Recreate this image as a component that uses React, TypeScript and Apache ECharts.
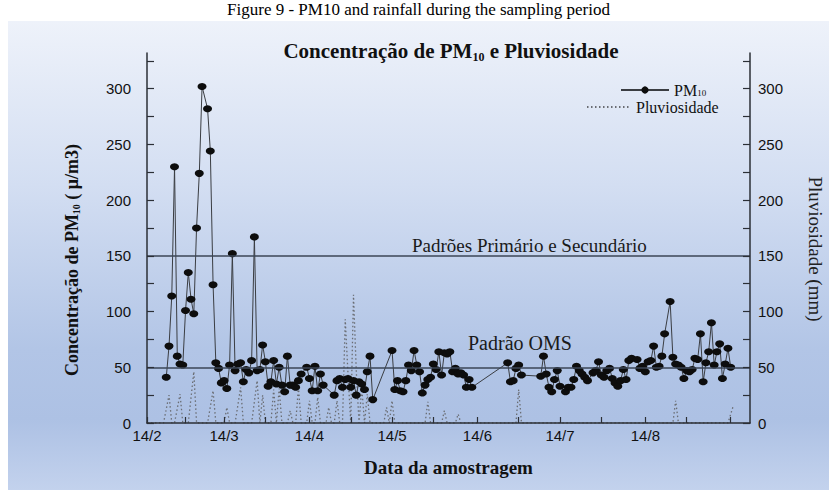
import React, { useEffect, useRef } from "react";
import * as echarts from "echarts";

// ---- data (days counted from 14/2) ----
const xTickDays = [0, 28, 59, 89, 120, 150, 181];
const xTickLabels = ["14/2", "14/3", "14/4", "14/5", "14/6", "14/7", "14/8"];
const xMinorTickDays = [0, 14, 28, 43, 59, 74, 89, 104, 120, 135, 150, 165, 181, 196, 212];
const yLabelValues = [0, 50, 100, 150, 200, 250, 300];
const yTickValues = [0, 25, 50, 75, 100, 125, 150, 175, 200, 225, 250, 275, 300, 325];

const pmDays = [
  7, 8, 9, 10, 11, 12, 13, 14, 15, 16, 17, 18, 19, 20, 22, 23, 24, 25, 26, 27, 28, 29, 30,
  31, 32, 33, 34, 35, 36, 37, 38, 39, 40, 41, 42, 43, 44, 45, 46, 47, 48, 49, 50, 51, 52,
  53, 54, 55, 56, 58, 59, 60, 61, 62, 63, 64, 68, 69, 70, 71, 72, 73, 74, 75, 76, 77, 78,
  79, 80, 81, 82, 89, 90, 91, 92, 93, 94, 95, 96, 97, 98, 99, 100, 101, 102, 103, 104, 105,
  106, 107, 108, 109, 110, 111, 112, 113, 114, 115, 116, 117, 118, 131, 132, 133, 134, 135,
  136, 143, 144, 145, 146, 147, 148, 149, 150, 152, 153, 154, 155, 156, 157, 158, 159, 160,
  162, 163, 164, 165, 166, 167, 168, 169, 170, 171, 172, 173, 174, 175, 176, 178, 179, 180,
  181, 182, 183, 184, 185, 186, 187, 188, 190, 191, 192, 193, 194, 195, 196, 197, 198, 199,
  200, 201, 202, 203, 204, 205, 206, 207, 208, 209, 210, 211, 212,
];
const pmValues = [
  41, 69, 114, 230, 60, 53, 52, 101, 135, 111, 98, 175, 224, 302, 282, 244, 124, 54, 49, 36,
  38, 31, 52, 152, 47, 53, 54, 37, 48, 45, 56, 167, 47, 48, 70, 55, 33, 37, 56, 35, 50, 34,
  28, 60, 34, 34, 32, 38, 44, 50, 40, 29, 51, 29, 44, 34, 25, 38, 40, 32, 39, 40, 32, 38, 25,
  37, 35, 30, 46, 60, 21, 65, 30, 38, 29, 28, 38, 52, 47, 65, 52, 46, 27, 34, 39, 41, 53, 48,
  64, 43, 63, 62, 64, 46, 49, 44, 45, 43, 32, 39, 32, 54, 37, 38, 49, 52, 43, 42, 60, 44, 32,
  28, 39, 47, 33, 28, 32, 32, 39, 51, 47, 44, 41, 38, 45, 47, 55, 43, 41, 47, 49, 40, 36, 33,
  38, 48, 39, 56, 58, 57, 49, 51, 46, 55, 56, 69, 50, 51, 60, 80, 109, 59, 53, 52, 50, 40, 47,
  46, 48, 58, 57, 80, 37, 54, 64, 90, 52, 64, 71, 40, 53, 67, 50,
];

const rainDays = [
  0, 6, 8, 9, 10, 12, 13, 15, 17, 18, 22, 24, 25, 28, 29, 30, 32, 34, 35, 38, 40, 41, 42, 43,
  45, 46, 47, 48, 49, 51, 52, 53, 54, 55, 56, 58, 59, 60, 61, 62, 63, 65, 66, 67, 68, 69, 70,
  71, 72, 73, 74, 75, 76, 77, 78, 79, 80, 81, 86, 87, 88, 89, 90, 101, 102, 103, 107, 108,
  109, 112, 113, 114, 134, 135, 136, 191, 192, 193, 211, 213,
];
const rainValues = [
  0, 0, 25, 0, 0, 26, 0, 0, 46, 0, 0, 29, 0, 0, 14, 0, 0, 32, 0, 0, 38, 0, 25, 0,
  0, 30, 0, 31, 0, 0, 11, 0, 0, 32, 0, 0, 20, 0, 0, 23, 0, 0, 14, 0, 0, 20, 0,
  0, 93, 44, 0, 115, 47, 0, 32, 0, 26, 0, 0, 14, 0, 20, 0, 0, 19, 0, 0, 11,
  0, 0, 8, 0, 0, 30, 0, 0, 20, 0, 0, 16,
];

const pmData = pmDays.map((d, i) => [d, pmValues[i]]);
const rainData = rainDays.map((d, i) => [d, rainValues[i]]);

const SERIF = "'Liberation Serif', 'Times New Roman', serif";
const SANS = "'Liberation Sans', Arial, sans-serif";

export default function App() {
  const ref = useRef<HTMLDivElement>(null);

  useEffect(() => {
    if (!ref.current) return;
    const chart = echarts.init(ref.current, undefined, { renderer: "svg" });
    const labelOf = (v: number) => {
      const i = xTickDays.indexOf(v);
      return i >= 0 ? xTickLabels[i] : "";
    };
    const yAxisCommon = {
      type: "value",
      min: 0,
      max: 332,
      interval: 50,
      z: 5,
      axisLine: { show: true, lineStyle: { color: "#2b2f36", width: 1.5 } },
      axisTick: {
        show: true,
        inside: true,
        length: 7,
        customValues: yTickValues,
        lineStyle: { color: "#2b2f36", width: 1.2 },
      },
      splitLine: { show: false },
      axisLabel: {
        customValues: yLabelValues,
        fontFamily: SANS,
        fontSize: 15,
        color: "#111",
      },
    };

    chart.setOption({
      animation: false,
      backgroundColor: "#ffffff",
      graphic: [
        {
          type: "text",
          z: -2,
          left: "center",
          top: 1,
          style: {
            text: "Figure 9 - PM10 and rainfall during the sampling period",
            font: `17px ${SERIF}`,
            fill: "#000",
          },
        },
        {
          type: "rect",
          z: -1,
          shape: { x: 8, y: 21, width: 821, height: 469 },
          style: {
            fill: {
              type: "linear",
              x: 0,
              y: 0,
              x2: 0,
              y2: 1,
              colorStops: [
                { offset: 0, color: "#eef2fa" },
                { offset: 0.35, color: "#d3def2" },
                { offset: 0.7, color: "#b2c5e6" },
                { offset: 0.85, color: "#adc1e4" },
                { offset: 1, color: "#c3d2ed" },
              ],
            },
          },
        },
        {
          type: "text",
          left: 412,
          top: 236,
          z: 5,
          style: {
            text: "Padrões Primário e Secundário",
            font: `19px ${SERIF}`,
            fill: "#1a1a1a",
          },
        },
        {
          type: "text",
          left: 468,
          top: 333,
          z: 5,
          style: { text: "Padrão OMS", font: `20px ${SERIF}`, fill: "#1a1a1a" },
        },
      ],
      title: {
        text: "{a|Concentração de PM}{s|10}{a| e Pluviosidade}",
        left: 446,
        textAlign: "center",
        top: 34,
        textStyle: {
          rich: {
            a: { fontFamily: SERIF, fontWeight: "bold", fontSize: 21, color: "#111", lineHeight: 24 },
            s: {
              fontFamily: SERIF,
              fontWeight: "bold",
              fontSize: 12,
              color: "#111",
              verticalAlign: "bottom",
              lineHeight: 24,
              padding: [10, 0, 0, 0],
            },
          },
        },
      },
      legend: [
        {
          data: ["PM10"],
          left: 620,
          top: 82,
          padding: 0,
          itemWidth: 48,
          itemHeight: 9,
          formatter: () => "{a|PM}{s|10}",
          textStyle: {
            rich: {
              a: { fontFamily: SERIF, fontSize: 16, color: "#111", lineHeight: 14 },
              s: { fontFamily: SERIF, fontSize: 9, color: "#111", lineHeight: 14, verticalAlign: "bottom", padding: [4, 0, 0, 0] },
            },
          },
        },
        {
          data: ["Pluviosidade"],
          left: 586,
          top: 99,
          padding: 0,
          itemWidth: 44,
          itemHeight: 8,
          itemStyle: { color: "rgba(0,0,0,0)", borderWidth: 0 },
          textStyle: { fontFamily: SERIF, fontSize: 16, color: "#111", lineHeight: 14 },
        },
      ],
      grid: { left: 147, right: 87, top: 53, bottom: 67, containLabel: false, outerBoundsMode: "none" },
      xAxis: {
        type: "value",
        min: 0,
        max: 219,
        z: 5,
        name: "Data da amostragem",
        nameLocation: "middle",
        nameGap: 35,
        nameTextStyle: { fontFamily: SERIF, fontWeight: "bold", fontSize: 19, color: "#111" },
        axisLine: { show: true, lineStyle: { color: "#2b2f36", width: 1.5 } },
        axisTick: {
          show: true,
          inside: true,
          length: 6,
          customValues: xMinorTickDays,
          lineStyle: { color: "#2b2f36", width: 1.2 },
        },
        splitLine: { show: false },
        axisLabel: {
          customValues: xTickDays,
          formatter: (v: number) => labelOf(v),
          fontFamily: SANS,
          fontSize: 15,
          color: "#111",
          margin: 5,
        },
      },
      yAxis: [
        {
          ...yAxisCommon,
          position: "left",
          name: "{a|Concentração de PM}{s|10}{a| ( μ/m3)}",
          nameLocation: "middle",
          nameGap: 66,
          nameTextStyle: {
            padding: [0, 44, 0, 0],
            rich: {
              a: { fontFamily: SERIF, fontWeight: "bold", fontSize: 18, color: "#111" },
              s: { fontFamily: SERIF, fontWeight: "bold", fontSize: 10, color: "#111", verticalAlign: "bottom", padding: [8, 0, 0, 0] },
            },
          },
          axisLabel: { ...yAxisCommon.axisLabel, margin: 16 },
        },
        {
          ...yAxisCommon,
          position: "right",
          name: "Pluviosidade (mm)",
          nameLocation: "middle",
          nameRotate: -90,
          nameGap: 56,
          nameTextStyle: { fontFamily: SERIF, fontSize: 19, color: "#222", padding: [0, 0, 0, 22] },
          axisLabel: { ...yAxisCommon.axisLabel, margin: 8 },
        },
      ],
      series: [
        {
          name: "Pluviosidade",
          type: "line",
          yAxisIndex: 1,
          data: rainData,
          symbol: "none",
          z: 2,
          lineStyle: { color: "#6a6d73", width: 1.3, type: [1.5, 2.5] },
          itemStyle: { color: "#6a6d73" },
        },
        {
          name: "PM10",
          type: "line",
          yAxisIndex: 0,
          data: pmData,
          symbol: "circle",
          symbolSize: [9, 7],
          z: 3,
          lineStyle: { color: "#3a3d42", width: 1 },
          itemStyle: { color: "#0d0d0d" },
          markLine: {
            silent: true,
            symbol: "none",
            label: { show: false },
            lineStyle: { color: "#3b4656", width: 1.6, type: "solid" },
            data: [{ yAxis: 150 }, { yAxis: 50 }],
          },
        },
      ],
    });
    return () => chart.dispose();
  }, []);

  return (
    <div
      ref={ref}
      style={{ position: "fixed", left: 0, top: 0, width: 837, height: 490 }}
    />
  );
}
